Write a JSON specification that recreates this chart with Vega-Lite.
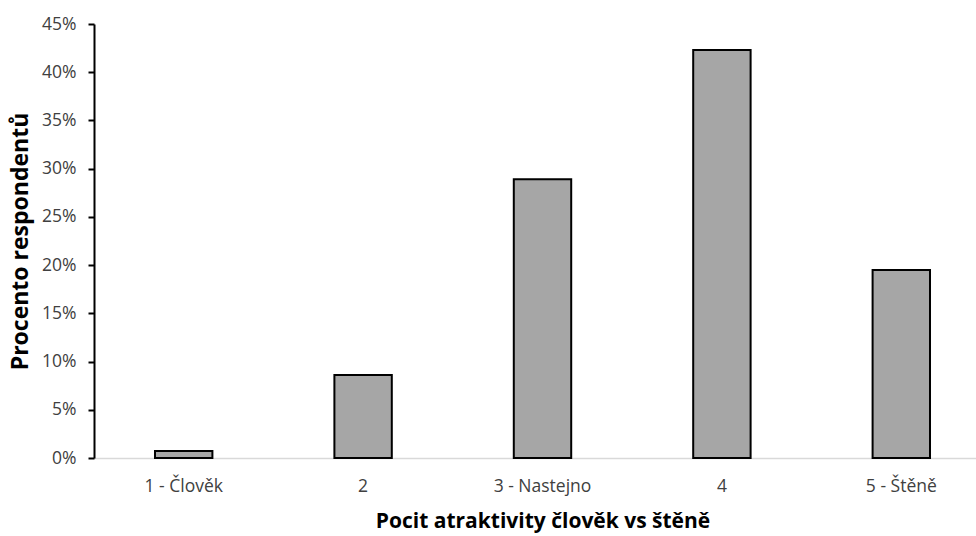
{
  "$schema": "https://vega.github.io/schema/vega-lite/v6.json",
  "autosize": "none",
  "padding": {"left": 94, "top": 24, "right": 0, "bottom": 78},
  "width": 882,
  "height": 434,
  "background": "white",
  "config": {"view": {"stroke": null}, "font": "Open Sans"},
  "data": {"values": [
    {"kategorie": "1 - Člověk", "podil": 0.0073},
    {"kategorie": "2", "podil": 0.086},
    {"kategorie": "3 - Nastejno", "podil": 0.289},
    {"kategorie": "4", "podil": 0.423},
    {"kategorie": "5 - Štěně", "podil": 0.195}
  ]},
  "mark": {"type": "bar", "fill": "#a6a6a6", "stroke": "#000000", "strokeWidth": 2},
  "encoding": {
    "x": {
      "field": "kategorie", "type": "nominal", "sort": null,
      "scale": {"range": [0, 897], "paddingInner": 0.68, "paddingOuter": 0.34},
      "axis": {
        "title": "Pocit atraktivity člověk vs štěně",
        "titleFont": "Open Sans", "titleFontSize": 21, "titleFontWeight": "bold", "titleColor": "#000000",
        "titlePadding": 16,
        "labelAngle": 0, "labelFontSize": 17.5, "labelColor": "#404040", "labelPadding": 19,
        "ticks": false, "domainColor": "#d9d9d9", "domainWidth": 1.5, "grid": false
      }
    },
    "y": {
      "field": "podil", "type": "quantitative",
      "scale": {"domain": [0, 0.45], "nice": false},
      "axis": {
        "title": "Procento respondentů",
        "titleFont": "Open Sans", "titleFontSize": 23, "titleFontWeight": "bold", "titleColor": "#000000",
        "titlePadding": 9,
        "format": ".0%", "values": [0, 0.05, 0.1, 0.15, 0.2, 0.25, 0.3, 0.35, 0.4, 0.45],
        "labelFontSize": 17.5, "labelColor": "#404040", "labelPadding": 12,
        "tickColor": "#000000", "tickSize": 6, "tickWidth": 2,
        "domainColor": "#000000", "domainWidth": 2, "grid": false
      }
    }
  }
}
